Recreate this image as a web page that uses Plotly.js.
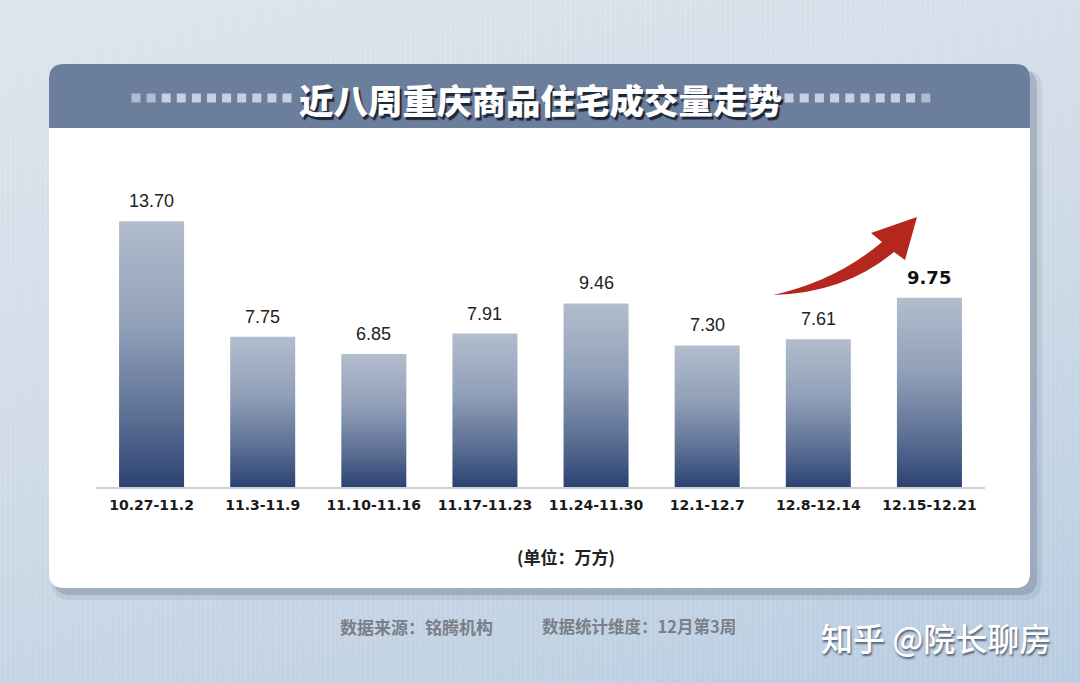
<!DOCTYPE html>
<html>
<head>
<meta charset="utf-8">
<script src="https://cdn.plot.ly/plotly-3.0.1.min.js"></script>
<style>
  html, body { margin: 0; padding: 0; }
  body {
    width: 1080px; height: 683px; overflow: hidden;
    background:
      repeating-linear-gradient(90deg, rgba(255,255,255,0.10) 0px, rgba(255,255,255,0.10) 1px, rgba(255,255,255,0) 1px, rgba(255,255,255,0) 5px),
      linear-gradient(165deg, #dde5ed 0%, #d3dde8 40%, #c4d4e4 75%, #b8cde2 100%);
  }
  #chart { width: 1080px; height: 683px; }
</style>
</head>
<body>
<div id="chart"></div>
<script>
// ---- data ----
const categories = ['10.27-11.2', '11.3-11.9', '11.10-11.16', '11.17-11.23', '11.24-11.30', '12.1-12.7', '12.8-12.14', '12.15-12.21'];
const values = [13.70, 7.75, 6.85, 7.91, 9.46, 7.30, 7.61, 9.75];
const titleText = '近八周重庆商品住宅成交量走势';
const unitText = '(单位：万方)';
const sourceText = '数据来源：铭腾机构';
const periodText = '数据统计维度：12月第3周';
const brandText = '知乎 @院长聊房';

// ---- layout geometry (pixels) ----
const ML = 96, MR = 95, MT = 196, MB = 196;
const W = 1080 - ML - MR, H = 683 - MT - MB;
const BOTTOM = MT + H;
function px(x) { return (x - ML) / W; }
function py(y) { return (BOTTOM - y) / H; }
function pt(x, y) { return px(x) + ',' + py(y); }

function roundRectPath(x0, y0, x1, y1, r, topOnly) {
  let d = 'M' + pt(x0 + r, y0) + ' L' + pt(x1 - r, y0) + ' Q' + pt(x1, y0) + ' ' + pt(x1, y0 + r);
  if (topOnly) {
    d += ' L' + pt(x1, y1) + ' L' + pt(x0, y1);
  } else {
    d += ' L' + pt(x1, y1 - r) + ' Q' + pt(x1, y1) + ' ' + pt(x1 - r, y1) +
         ' L' + pt(x0 + r, y1) + ' Q' + pt(x0, y1) + ' ' + pt(x0, y1 - r);
  }
  d += ' L' + pt(x0, y0 + r) + ' Q' + pt(x0, y0) + ' ' + pt(x0 + r, y0) + ' Z';
  return d;
}

const shapes = [];
// card shadow
shapes.push({type: 'path', xref: 'paper', yref: 'paper', layer: 'below', line: {width: 0},
  fillcolor: 'rgba(70,80,100,0.10)', path: roundRectPath(52, 70, 1042, 600, 18)});
shapes.push({type: 'path', xref: 'paper', yref: 'paper', layer: 'below', line: {width: 0},
  fillcolor: 'rgba(70,80,100,0.22)', path: roundRectPath(54, 70, 1037, 595, 16)});
// card
shapes.push({type: 'path', xref: 'paper', yref: 'paper', layer: 'below', line: {width: 0},
  fillcolor: '#ffffff', path: roundRectPath(49, 64, 1030, 588, 15)});
// header band
shapes.push({type: 'path', xref: 'paper', yref: 'paper', layer: 'below', line: {width: 0},
  fillcolor: '#6b7e9c', path: roundRectPath(49, 64, 1030, 128, 15, true)});
// dotted squares
for (let i = 0; i < 11; i++) {
  const cx = 136 + i * 15.1;
  shapes.push({type: 'rect', xref: 'paper', yref: 'paper', layer: 'below', line: {width: 0},
    fillcolor: i < 2 ? '#aebbd0' : '#c6d0df',
    x0: px(cx - 4.5), x1: px(cx + 4.5), y0: py(102.5), y1: py(93.5)});
}
for (let i = 0; i < 10; i++) {
  const cx = 789 + i * 15.2;
  shapes.push({type: 'rect', xref: 'paper', yref: 'paper', layer: 'below', line: {width: 0},
    fillcolor: i > 8 ? '#aebbd0' : '#c6d0df',
    x0: px(cx - 4.5), x1: px(cx + 4.5), y0: py(102.5), y1: py(93.5)});
}
// red trend arrow
shapes.push({type: 'path', xref: 'paper', yref: 'paper', layer: 'above', line: {width: 0},
  fillcolor: '#b3271d',
  path: 'M' + pt(773, 295) + ' Q' + pt(836, 281) + ' ' + pt(882, 242) +
        ' L' + pt(871, 233) + ' L' + pt(917, 217) + ' L' + pt(905, 260) +
        ' L' + pt(894, 252) + ' Q' + pt(845, 293) + ' ' + pt(773, 295) + ' Z'});

// ---- annotations ----
const annotations = [];
values.forEach(function (v, i) {
  const last = i === values.length - 1;
  annotations.push({
    x: categories[i], y: v, xref: 'x', yref: 'y',
    text: v.toFixed(2), showarrow: false, yanchor: 'middle', yshift: 20,
    font: last ? {family: 'DejaVu Sans', size: 18, weight: 'bold', color: '#111111'}
               : {family: 'Liberation Sans, Arial, sans-serif', size: 18, color: '#222222'}
  });
});
annotations.push({xref: 'paper', yref: 'paper', x: px(540), y: py(99), showarrow: false,
  text: titleText, xanchor: 'center', yanchor: 'middle',
  font: {family: 'Noto Sans CJK SC', size: 34.5, weight: 900, color: '#ffffff', shadow: '2px 3px 1px #1c2638'}});
annotations.push({xref: 'paper', yref: 'paper', x: px(566), y: py(556), showarrow: false,
  text: unitText, xanchor: 'center', yanchor: 'middle',
  font: {family: 'Noto Sans CJK SC', size: 17, weight: 'bold', color: '#222222'}});
annotations.push({xref: 'paper', yref: 'paper', x: px(416), y: py(626), showarrow: false,
  text: sourceText, xanchor: 'center', yanchor: 'middle',
  font: {family: 'Noto Sans CJK SC', size: 17, weight: 'bold', color: '#7a7f87'}});
annotations.push({xref: 'paper', yref: 'paper', x: px(639), y: py(626), showarrow: false,
  text: periodText, xanchor: 'center', yanchor: 'middle',
  font: {family: 'Noto Sans CJK SC', size: 16.5, weight: 'bold', color: '#7a7f87'}});
annotations.push({xref: 'paper', yref: 'paper', x: px(936), y: py(637), showarrow: false,
  text: brandText, xanchor: 'center', yanchor: 'middle',
  font: {family: 'Noto Sans CJK SC', size: 32, weight: 500, color: '#ffffff', shadow: '1px 2px 2px rgba(40,50,70,0.7)'}});

const trace = {
  type: 'bar', x: categories, y: values,
  marker: {color: '#6f82a3', line: {width: 0}},
  hoverinfo: 'none'
};

const layout = {
  width: 1080, height: 683,
  margin: {l: ML, r: MR, t: MT, b: MB, pad: 0},
  paper_bgcolor: 'rgba(0,0,0,0)', plot_bgcolor: 'rgba(0,0,0,0)',
  bargap: 0.415, showlegend: false,
  xaxis: {
    type: 'category', range: [-0.5, 7.5], showgrid: false, zeroline: false,
    showline: true, linecolor: '#cfcfcf', linewidth: 1.5,
    ticks: '', ticklabelstandoff: 5,
    tickfont: {family: 'DejaVu Sans', size: 14, weight: 'bold', color: '#1a1a1a'}
  },
  yaxis: {range: [0, 15], visible: false, showgrid: false, zeroline: false},
  shapes: shapes, annotations: annotations
};

Plotly.newPlot('chart', [trace], layout, {staticPlot: true, displayModeBar: false}).then(function () {
  const svg = document.querySelector('#chart .main-svg');
  const NS = 'http://www.w3.org/2000/svg';
  let defs = svg.querySelector('defs');
  if (!defs) { defs = document.createElementNS(NS, 'defs'); svg.insertBefore(defs, svg.firstChild); }
  const grad = document.createElementNS(NS, 'linearGradient');
  grad.setAttribute('id', 'barGrad');
  grad.setAttribute('x1', '0'); grad.setAttribute('y1', '0');
  grad.setAttribute('x2', '0'); grad.setAttribute('y2', '1');
  [['0%', '#b2bdcd'], ['40%', '#909fb8'], ['75%', '#5a6d92'], ['100%', '#2b4373']].forEach(function (s) {
    const st = document.createElementNS(NS, 'stop');
    st.setAttribute('offset', s[0]); st.setAttribute('stop-color', s[1]);
    grad.appendChild(st);
  });
  defs.appendChild(grad);
  document.querySelectorAll('#chart .bars path').forEach(function (p) {
    p.style.fill = 'url(#barGrad)';
  });
});
</script>
</body>
</html>
